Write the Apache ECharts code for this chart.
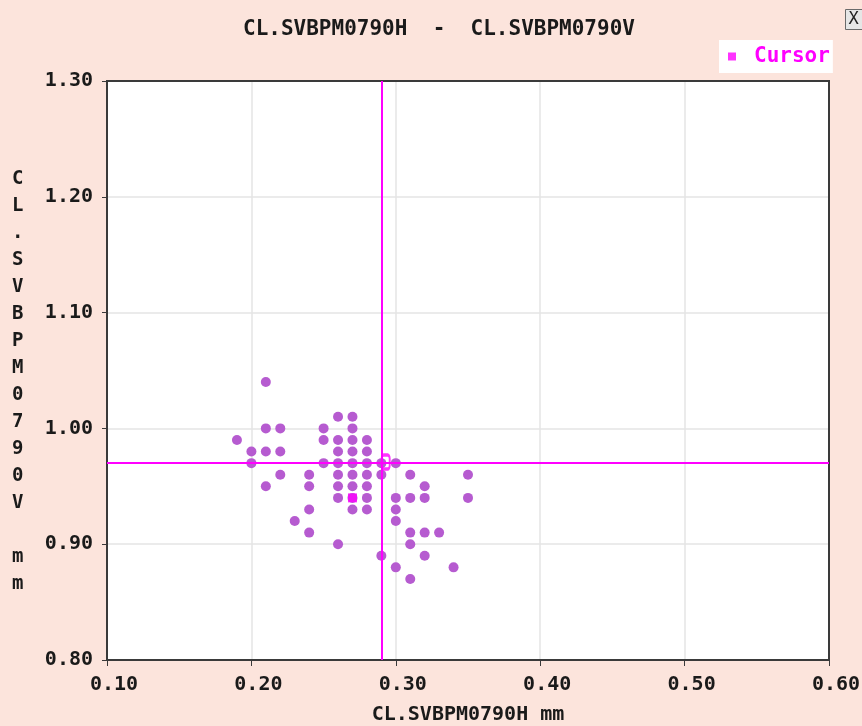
<!DOCTYPE html>
<html>
<head>
<meta charset="utf-8">
<script src="https://cdn.jsdelivr.net/npm/echarts@6/dist/echarts.min.js"></script>
<style>
  html, body { margin: 0; padding: 0; background: #FCE4DC; }
  #chart { width: 862px; height: 726px; }
</style>
</head>
<body>
<div id="chart"></div>
<script>
// Beam position samples: horizontal (H) vs vertical (V) readings, mm
const posH = [
  0.19,
  0.20, 0.20,
  0.21, 0.21, 0.21, 0.21,
  0.22, 0.22, 0.22,
  0.23,
  0.24, 0.24, 0.24, 0.24,
  0.25, 0.25, 0.25,
  0.26, 0.26, 0.26, 0.26, 0.26, 0.26, 0.26, 0.26,
  0.27, 0.27, 0.27, 0.27, 0.27, 0.27, 0.27, 0.27, 0.27,
  0.28, 0.28, 0.28, 0.28, 0.28, 0.28, 0.28,
  0.29, 0.29, 0.29,
  0.30, 0.30, 0.30, 0.30, 0.30,
  0.31, 0.31, 0.31, 0.31, 0.31,
  0.32, 0.32, 0.32, 0.32,
  0.33,
  0.34,
  0.35, 0.35
];
const posV = [
  0.99,
  0.98, 0.97,
  1.04, 1.00, 0.98, 0.95,
  1.00, 0.98, 0.96,
  0.92,
  0.96, 0.95, 0.93, 0.91,
  1.00, 0.99, 0.97,
  1.01, 0.99, 0.98, 0.97, 0.96, 0.95, 0.94, 0.90,
  1.01, 1.00, 0.99, 0.98, 0.97, 0.96, 0.95, 0.94, 0.93,
  0.99, 0.98, 0.97, 0.96, 0.95, 0.94, 0.93,
  0.97, 0.96, 0.89,
  0.97, 0.94, 0.93, 0.92, 0.88,
  0.96, 0.94, 0.91, 0.90, 0.87,
  0.95, 0.94, 0.91, 0.89,
  0.91,
  0.88,
  0.96, 0.94
];

// Crosshair position and the cursor / latest-reading markers
const crossH = 0.29;
const crossV = 0.97;
const cursorPoint = [0.27, 0.94];
const latestPoint = [0.293, 0.971];

// Axis ranges and ticks
const xMin = 0.1, xMax = 0.6, xStep = 0.1;
const yMin = 0.8, yMax = 1.3, yStep = 0.1;

const titleText = 'CL.SVBPM0790H  -  CL.SVBPM0790V';
const xName = 'CL.SVBPM0790H mm';
const yName = 'CL.SVBPM0790V mm';

const MONO = '"DejaVu Sans Mono", "Liberation Mono", monospace';
const MAGENTA = '#FF00FF';
const DOT = '#B65BD0';
const FRAME = '#3a3a3a';
const INK = '#1a1a1a';

const scatterData = posH.map((h, i) => [h, posV[i]]);

// one character per line for the vertical axis title
const yNameStacked = yName.split(' ').map(w => w.split('').join('\n')).join('\n\n');

// plain frame edge (top / right) with no ticks or labels
const frameAxis = extra => Object.assign({
  type: 'value',
  axisLine: { show: true, onZero: false, lineStyle: { color: FRAME, width: 2 } },
  axisTick: { show: false },
  axisLabel: { show: false },
  splitLine: { show: false }
}, extra);

const chart = echarts.init(document.getElementById('chart'), null, { renderer: 'canvas' });

chart.setOption({
  backgroundColor: '#FCE4DC',
  animation: false,
  title: {
    text: titleText,
    left: 238,
    top: 14,
    textStyle: { fontFamily: MONO, fontWeight: 'bold', fontSize: 21, color: INK }
  },
  legend: {
    data: ['Cursor'],
    left: 719,
    top: 40,
    padding: [6, 3, 6, 9],
    backgroundColor: '#FFFFFF',
    icon: 'rect',
    itemWidth: 8,
    itemHeight: 8,
    itemGap: 4,
    textStyle: {
      fontFamily: MONO, fontWeight: 'bold', fontSize: 21, color: MAGENTA,
      padding: [0, 0, 0, 13]
    }
  },
  grid: {
    left: 107,
    right: 33,
    top: 81,
    bottom: 66,
    outerBoundsMode: 'none',
    containLabel: false,
    show: true,
    backgroundColor: '#FFFFFF',
    borderColor: FRAME,
    borderWidth: 2
  },
  xAxis: [
    {
      type: 'value',
      min: xMin,
      max: xMax,
      interval: xStep,
      name: xName,
      nameLocation: 'middle',
      nameGap: 45,
      nameTextStyle: { fontFamily: MONO, fontWeight: 'bold', fontSize: 20, color: INK },
      axisLine: { show: true, lineStyle: { color: FRAME, width: 2 } },
      axisTick: { show: true, length: 6, lineStyle: { color: FRAME, width: 1 } },
      axisLabel: {
        margin: 15,
        padding: [0, 0, 0, 14],
        fontFamily: MONO, fontWeight: 'bold', fontSize: 20, color: INK,
        formatter: v => v.toFixed(2)
      },
      splitLine: { show: true, lineStyle: { color: '#E4E4E4', width: 1.5 } }
    },
    frameAxis({ position: 'top', min: xMin, max: xMax })
  ],
  yAxis: [
    {
      type: 'value',
      min: yMin,
      max: yMax,
      interval: yStep,
      axisLine: { show: true, lineStyle: { color: FRAME, width: 2 } },
      axisTick: { show: true, length: 5, lineStyle: { color: FRAME, width: 1 } },
      axisLabel: {
        margin: 14,
        padding: [3, 0, 0, 0],
        fontFamily: MONO, fontWeight: 'bold', fontSize: 20, color: INK,
        formatter: v => v.toFixed(2)
      },
      splitLine: { show: true, lineStyle: { color: '#E4E4E4', width: 1.5 } }
    },
    frameAxis({ position: 'right', min: yMin, max: yMax })
  ],
  graphic: [
    {
      type: 'text',
      left: 12,
      top: 166,
      style: {
        text: yNameStacked,
        fontFamily: MONO,
        fontWeight: 'bold',
        fontSize: 19,
        lineHeight: 27,
        fill: INK,
        align: 'left'
      }
    },
    {
      // window close button
      type: 'group',
      left: 845,
      top: 9,
      children: [
        {
          type: 'rect',
          shape: { x: 0, y: 0, width: 22, height: 20 },
          style: { fill: '#E6E6E6', stroke: '#6a6a6a', lineWidth: 1 }
        },
        {
          type: 'text',
          x: 3,
          y: 2,
          style: { text: 'X', fontFamily: MONO, fontSize: 17, fill: '#222' }
        }
      ]
    }
  ],
  series: [
    {
      name: 'samples',
      type: 'scatter',
      symbol: 'circle',
      symbolSize: 10,
      itemStyle: { color: DOT, opacity: 1 },
      data: scatterData,
      z: 2,
      markLine: {
        silent: true,
        symbol: 'none',
        label: { show: false },
        lineStyle: { color: MAGENTA, width: 2, type: 'solid' },
        data: [{ xAxis: crossH }, { yAxis: crossV }],
        z: 3
      }
    },
    {
      name: 'Cursor',
      type: 'scatter',
      symbol: 'rect',
      symbolSize: 9,
      itemStyle: { color: MAGENTA },
      data: [cursorPoint],
      z: 5
    },
    {
      name: 'latest',
      type: 'scatter',
      symbol: 'roundRect',
      symbolSize: [8, 14],
      itemStyle: { color: 'transparent', borderColor: MAGENTA, borderWidth: 2.5 },
      data: [latestPoint],
      z: 6
    }
  ]
});
</script>
</body>
</html>
